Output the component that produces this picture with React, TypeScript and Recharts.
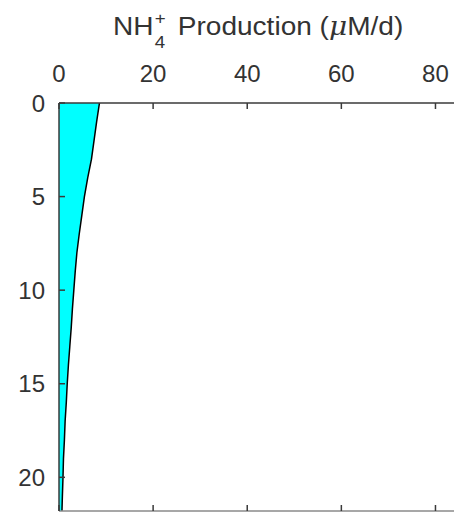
import { ComposedChart, Area, XAxis, YAxis } from 'recharts'

// depth (m) and NH4+ production (uM/d)
const depths = [0, 1, 2, 3, 4, 5, 6, 7, 8, 9, 10, 11, 12, 13, 14, 15, 16, 17, 18, 19, 20, 21, 21.8]
const production = [8.6, 8.0, 7.45, 6.9, 6.1, 5.4, 4.85, 4.3, 3.8, 3.45, 3.15, 2.85, 2.6, 2.3, 2.0, 1.75, 1.55, 1.3, 1.15, 0.95, 0.85, 0.72, 0.63]
const xTicks = [0, 20, 40, 60, 80]
const yTicks = [0, 5, 10, 15, 20]

const data = depths.map((d, i) => ({ depth: d, prod: production[i] }))

const font = '"Liberation Sans", Arial, Helvetica, sans-serif'
const tickStyle = { fontSize: 24, fill: '#333', fontFamily: font }
const axisColor = '#3a3a3a'

const Empty = () => <g />

function Title() {
  const script = { position: 'absolute' as const, left: 38, fontSize: 17, lineHeight: '17px' }
  return (
    <div
      style={{
        position: 'absolute',
        left: 113,
        top: 13.5,
        fontFamily: font,
        fontSize: 25.5,
        lineHeight: '25.5px',
        color: '#333',
        whiteSpace: 'nowrap',
        transform: 'scaleX(1.1)',
        transformOrigin: 'left top',
      }}
    >
      NH
      <span style={{ ...script, top: -4 }}>+</span>
      <span style={{ ...script, top: 20 }}>4</span>
      <span style={{ marginLeft: 22 }}>Production</span>
      <span style={{ marginLeft: 7 }}>(</span>
      <span style={{ fontFamily: '"DejaVu Serif", serif', fontStyle: 'italic' }}>μ</span>
      M/d)
    </div>
  )
}

export default function App() {
  return (
    <div style={{ position: 'absolute', left: 0, top: 0, width: 454, height: 512, overflow: 'hidden', background: '#fff' }}>
      <Title />
      <div style={{ position: 'absolute', left: 0, top: 0 }}>
        <ComposedChart
          width={480}
          height={530}
          data={data}
          layout="vertical"
          margin={{ top: 63, right: 21, bottom: 0, left: 9 }}
        >
          <XAxis
            xAxisId="top"
            type="number"
            orientation="top"
            domain={[0, 85]}
            ticks={xTicks}
            height={40}
            tickSize={-6}
            tickMargin={27}
            tick={tickStyle}
            axisLine={{ stroke: axisColor, strokeWidth: 1.5 }}
            tickLine={{ stroke: axisColor, strokeWidth: 1.5 }}
            allowDataOverflow
          />
          <XAxis
            xAxisId="bottom"
            type="number"
            orientation="bottom"
            domain={[0, 85]}
            ticks={xTicks}
            height={19}
            tickSize={-6}
            tick={<Empty />}
            axisLine={{ stroke: '#8a8a8a', strokeWidth: 1.5 }}
            tickLine={{ stroke: axisColor, strokeWidth: 1.5 }}
            allowDataOverflow
          />
          <YAxis
            type="number"
            dataKey="depth"
            domain={[0, 21.8]}
            ticks={yTicks}
            width={50}
            tickSize={-6}
            tickMargin={20}
            tick={tickStyle}
            axisLine={{ stroke: axisColor, strokeWidth: 1.5 }}
            tickLine={{ stroke: axisColor, strokeWidth: 1.5 }}
            allowDataOverflow
          />
          <Area
            xAxisId="top"
            dataKey="prod"
            type="linear"
            fill="#00ffff"
            fillOpacity={1}
            stroke="#000"
            strokeWidth={1.5}
            baseValue={0}
            dot={false}
            activeDot={false}
            isAnimationActive={false}
          />
        </ComposedChart>
      </div>
    </div>
  )
}
